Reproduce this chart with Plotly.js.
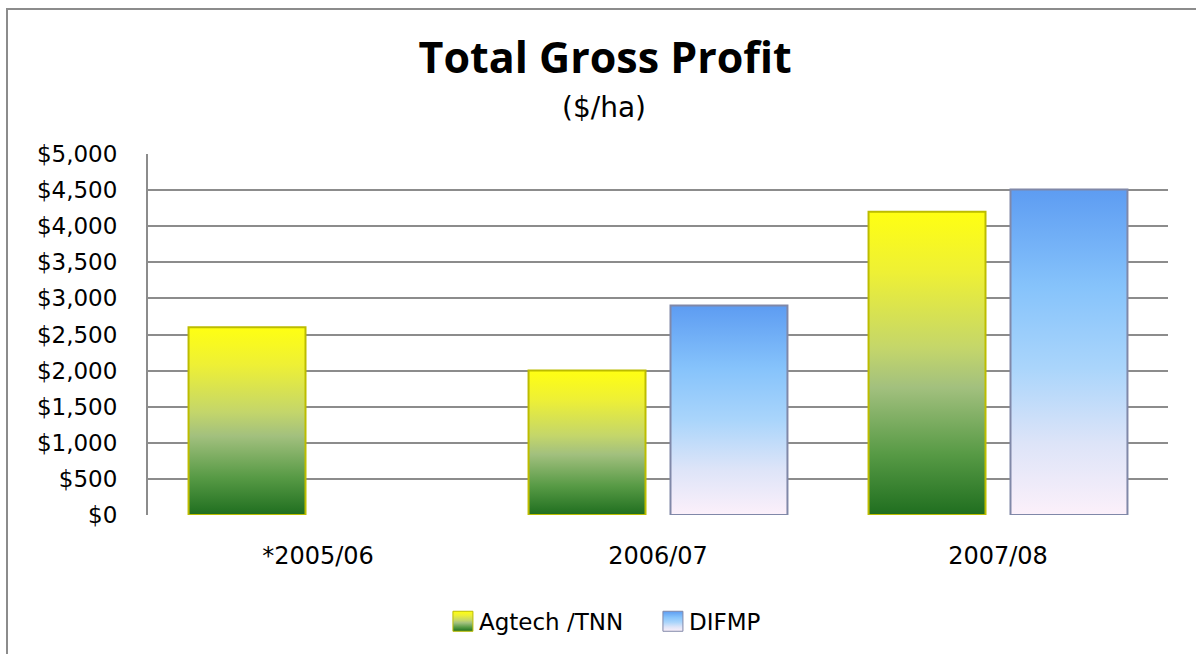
<!DOCTYPE html>
<html>
<head>
<meta charset="utf-8">
<script src="https://cdn.plot.ly/plotly-3.0.1.min.js"></script>
<style>
  html, body { margin: 0; padding: 0; background: #fff; overflow: hidden; }
  #chart { width: 1196px; height: 654px; }
  #frame {
    position: absolute; left: 6px; top: 8px; width: 1400px; height: 900px;
    border: 2px solid #8c8c8c; pointer-events: none;
  }
</style>
</head>
<body>
<div id="chart"></div>
<div id="frame"></div>
<script>
// ── Data ──────────────────────────────────────────────────────────────────────
const seasons = ["*2005/06", "2006/07", "2007/08"];
const agtechTnn = [2600, 2000, 4200];
const difmp = [null, 2900, 4510];
const yTicks = [0, 500, 1000, 1500, 2000, 2500, 3000, 3500, 4000, 4500, 5000];

const FONT = "DejaVu Sans, sans-serif";
const TITLE_FONT = "Open Sans, sans-serif";

// gradient stops, top → bottom
const gradients = {
  "grad-agtech": [
    [0, "#ffff12"], [0.2, "#eef035"], [0.45, "#c4d66a"], [0.58, "#a2c07e"],
    [0.8, "#579a45"], [1, "#1f6e1f"],
  ],
  "grad-difmp": [
    [0, "#5d9cf2"], [0.3, "#86c3fb"], [0.55, "#aad5fb"], [0.78, "#dde4f8"],
    [1, "#fcf0fa"],
  ],
};

const traces = [
  {
    type: "bar",
    name: "Agtech /TNN",
    x: seasons,
    y: agtechTnn,
    marker: { color: "#b8c840", line: { color: "#bcbc00", width: 2 } },
    hovertemplate: "%{x}: $%{y:,}<extra>Agtech /TNN</extra>",
  },
  {
    type: "bar",
    name: "DIFMP",
    x: seasons,
    y: difmp,
    marker: { color: "#a8d0f8", line: { color: "#8088a8", width: 2 } },
    hovertemplate: "%{x}: $%{y:,}<extra>DIFMP</extra>",
  },
];

const layout = {
  width: 1196,
  height: 654,
  paper_bgcolor: "#fff",
  plot_bgcolor: "#fff",
  font: { family: FONT, size: 23, color: "#000" },
  margin: { l: 148, r: 28, t: 154, b: 139, autoexpand: false },
  title: {
    text: "<b>Total Gross Profit</b>",
    font: { family: TITLE_FONT, size: 43, color: "#000" },
    x: 0.506, xanchor: "center",
    yref: "container", y: 0.911, yanchor: "middle",
  },
  annotations: [{
    text: "($/ha)",
    xref: "paper", yref: "paper",
    x: 0.447, y: 1.13,
    xanchor: "center", yanchor: "middle",
    showarrow: false,
    font: { family: FONT, size: 28, color: "#000" },
  }],
  barmode: "group",
  bargap: 0.165,
  bargroupgap: 0.176,
  xaxis: {
    type: "category",
    showgrid: false,
    showline: false,
    ticks: "",
    tickfont: { size: 24 },
    ticklabelstandoff: 24,
  },
  yaxis: {
    range: [0, 5000],
    tickvals: yTicks,
    ticktext: yTicks.map(v => "$" + v.toLocaleString("en-US")),
    gridcolor: "#8c8c8c",
    gridwidth: 2,
    showline: true,
    linecolor: "#8c8c8c",
    linewidth: 2,
    zeroline: false,
    ticks: "",
    ticklabelstandoff: 24,
    tickfont: { size: 23 },
  },
  showlegend: true,
  legend: {
    orientation: "h",
    xref: "container", x: 0.367, xanchor: "left",
    yref: "container", y: 0.05, yanchor: "middle",
    font: { size: 23 },
    entrywidth: 165,
    bgcolor: "rgba(0,0,0,0)",
  },
};

Plotly.newPlot("chart", traces, layout, { displayModeBar: false, staticPlot: true })
  .then(gd => {
    applyGradients(gd);
  });

// ── Gradient fills (Plotly bars only take flat colours) ───────────────────────
function applyGradients(gd) {
  const svgNS = "http://www.w3.org/2000/svg";
  const svg = gd.querySelector("svg.main-svg");
  let defs = svg.querySelector("defs");
  if (!defs) {
    defs = document.createElementNS(svgNS, "defs");
    svg.insertBefore(defs, svg.firstChild);
  }
  Object.entries(gradients).forEach(([id, stops]) => {
    const lg = document.createElementNS(svgNS, "linearGradient");
    lg.setAttribute("id", id);
    lg.setAttribute("x1", "0"); lg.setAttribute("y1", "0");
    lg.setAttribute("x2", "0"); lg.setAttribute("y2", "1");
    stops.forEach(([off, col]) => {
      const s = document.createElementNS(svgNS, "stop");
      s.setAttribute("offset", off);
      s.setAttribute("stop-color", col);
      lg.appendChild(s);
    });
    defs.appendChild(lg);
  });

  const ids = ["grad-agtech", "grad-difmp"];
  gd.querySelectorAll(".barlayer .trace").forEach((t, i) => {
    t.querySelectorAll(".point path").forEach(p => { p.style.fill = `url(#${ids[i]})`; });
  });
  // bigger square legend keys, like the original
  gd.querySelectorAll(".legend .traces").forEach((t, i) => {
    t.querySelectorAll(".legendpoints path").forEach(p => {
      p.setAttribute("d", "M-6,-10H14V10H-6Z");
      p.style.fill = `url(#${ids[i]})`;
      p.style.strokeWidth = "1px";
    });
  });
}
</script>
</body>
</html>
